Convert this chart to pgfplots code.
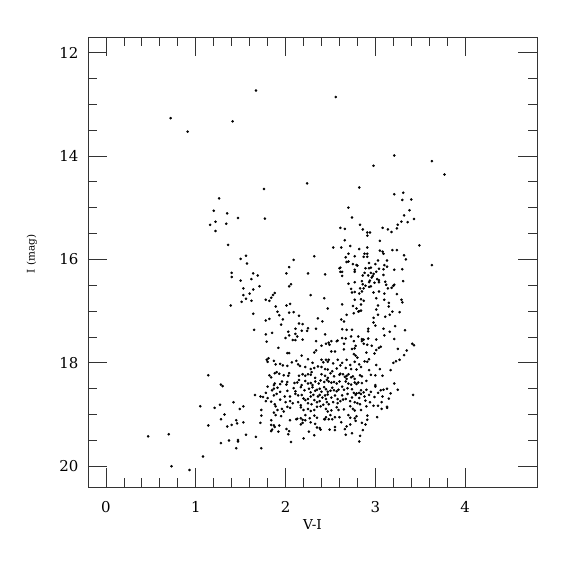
\documentclass[border=0pt]{standalone}
\usepackage{fontspec}
\setmainfont{DejaVu Serif}
\usepackage{pgfplots}
\usepackage{pgfplotstable}
\pgfplotsset{compat=1.18}
\pgfplotstableread{
x y
0.72 13.27
0.91 13.53
1.41 13.33
1.67 12.735
2.56 12.86
3.21 13.99
2.98 14.19
2.24 14.53
1.76 14.64
2.82 14.61
3.63 14.10
3.77 14.36
1.26 14.82
1.20 15.06
1.35 15.11
1.47 15.20
1.22 15.27
1.16 15.33
1.34 15.31
1.22 15.45
1.36 15.72
1.50 15.99
1.40 16.26
1.40 16.34
1.50 16.41
1.53 16.56
1.53 16.69
1.51 16.82
1.39 16.89
1.14 18.24
1.28 18.42
1.30 18.45
1.42 18.76
1.27 18.81
1.05 18.84
1.21 18.87
1.49 18.89
1.53 18.84
1.32 19.00
1.28 19.09
1.45 19.11
1.53 19.15
1.46 19.17
1.40 19.20
1.35 19.23
1.14 19.21
0.47 19.42
0.70 19.38
1.37 19.50
1.47 19.49
1.47 19.52
1.28 19.55
1.45 19.65
1.08 19.81
0.73 20.00
0.93 20.07
3.41 17.63
3.43 17.66
3.25 17.73
3.35 17.76
3.32 17.85
3.27 17.94
3.23 17.97
3.20 18.00
3.17 18.14
3.21 18.40
3.25 18.52
3.17 18.59
3.42 18.62
3.21 14.74
3.31 14.71
3.30 14.85
3.40 14.84
3.38 15.05
3.32 15.15
3.43 15.22
3.29 15.27
3.36 15.28
3.25 15.33
3.24 15.40
3.18 15.47
3.49 15.73
3.19 15.82
3.24 15.82
3.32 15.92
3.34 16.00
3.63 16.11
3.21 16.20
3.30 16.19
3.31 16.42
3.21 16.49
3.20 16.51
3.18 16.55
3.24 16.67
3.29 16.78
3.30 16.83
3.27 17.02
3.22 17.29
3.33 17.37
3.21 17.54
3.16 17.40
2.70 15.00
2.74 15.19
1.77 15.21
2.83 15.33
2.61 15.39
2.66 15.41
2.86 15.42
2.91 15.48
2.94 15.48
2.91 15.54
3.08 15.39
3.14 15.42
2.66 15.63
3.05 15.64
2.72 15.74
2.53 15.77
2.62 15.77
2.82 15.80
2.91 15.77
3.05 15.83
3.08 15.85
2.70 15.89
2.88 15.89
2.91 15.89
3.09 15.89
1.56 15.93
2.09 16.01
2.32 15.94
2.67 15.96
2.77 15.94
2.87 15.95
2.91 15.95
3.03 16.02
3.13 16.02
1.57 16.08
2.68 16.05
2.70 16.04
2.75 16.09
2.79 16.11
2.80 16.12
2.93 16.07
3.00 16.09
3.10 16.11
3.13 16.14
2.04 16.15
2.60 16.17
2.61 16.16
2.77 16.20
2.89 16.17
2.93 16.17
2.95 16.16
3.04 16.18
3.09 16.19
2.61 16.24
2.63 16.24
2.77 16.24
2.88 16.26
2.95 16.26
2.98 16.28
3.01 16.24
1.64 16.27
1.69 16.31
2.01 16.27
2.25 16.27
2.44 16.29
2.63 16.32
2.86 16.31
2.92 16.31
2.97 16.32
3.09 16.30
1.62 16.38
3.02 16.38
3.04 16.40
2.94 16.41
2.85 16.42
2.96 16.35
3.11 16.43
2.77 16.44
2.93 16.44
2.99 16.45
3.04 16.44
2.06 16.48
2.04 16.52
1.71 16.52
3.12 16.49
2.70 16.47
2.86 16.48
2.89 16.51
2.93 16.53
2.95 16.52
2.73 16.57
2.83 16.56
2.87 16.56
3.14 16.56
1.64 16.58
2.85 16.62
2.74 16.64
2.77 16.63
2.82 16.66
2.98 16.64
3.04 16.62
3.10 16.66
1.88 16.65
1.86 16.69
1.60 16.66
2.28 16.69
1.84 16.74
1.56 16.76
1.62 16.80
1.78 16.78
1.82 16.80
2.77 16.78
2.84 16.77
2.87 16.80
2.43 16.75
3.01 16.75
3.10 16.78
3.15 16.84
2.01 16.89
2.05 16.86
1.89 16.91
2.63 16.87
2.75 16.90
2.84 16.87
3.03 16.89
2.47 16.95
2.79 16.95
2.82 17.00
2.81 17.01
2.84 16.99
3.15 16.91
3.19 17.01
3.01 16.97
1.91 17.01
2.04 17.03
2.09 17.02
1.64 17.05
2.68 17.07
2.76 17.04
2.15 17.09
1.93 17.08
1.97 17.16
1.78 17.18
1.82 17.15
2.41 17.20
2.36 17.14
2.62 17.16
2.65 17.20
2.98 17.13
2.98 17.22
3.03 17.07
3.11 17.11
3.16 17.07
1.95 17.26
2.19 17.25
2.15 17.24
3.00 17.28
3.09 17.34
1.65 17.36
2.11 17.34
2.18 17.38
2.25 17.33
2.34 17.34
2.44 17.45
2.63 17.35
2.68 17.36
2.74 17.36
2.92 17.34
2.92 17.39
2.03 17.40
1.78 17.45
1.85 17.42
2.04 17.47
2.24 17.38
2.11 17.44
2.13 17.49
2.00 17.52
2.19 17.55
2.63 17.52
2.67 17.53
2.73 17.49
2.81 17.49
2.85 17.54
2.87 17.55
2.92 17.53
3.01 17.55
3.10 17.47
1.79 17.59
2.08 17.56
2.11 17.56
2.34 17.58
2.45 17.63
2.48 17.61
2.49 17.65
2.51 17.58
2.57 17.58
2.58 17.57
2.65 17.63
2.76 17.58
2.78 17.67
2.77 17.72
2.85 17.58
2.87 17.63
2.91 17.65
2.96 17.67
3.06 17.69
3.04 17.71
1.92 17.71
2.40 17.67
2.02 17.81
2.04 17.81
2.32 17.80
2.34 17.76
2.51 17.78
2.55 17.78
2.65 17.74
2.74 17.73
2.76 17.83
2.78 17.86
2.80 17.90
2.90 17.80
2.99 17.82
3.01 17.75
2.18 17.86
1.79 17.94
1.80 17.98
1.81 17.91
1.87 17.96
1.89 18.03
1.94 18.02
2.07 17.99
2.12 17.96
2.25 17.93
2.30 18.00
2.40 17.94
2.42 17.99
2.45 17.94
2.47 17.98
2.48 17.94
2.53 18.01
2.58 17.94
2.63 18.00
2.68 17.94
2.72 18.04
2.77 17.98
2.82 18.03
2.88 17.97
2.91 17.98
2.93 17.93
3.01 18.04
1.97 18.05
2.02 18.06
2.14 18.03
2.16 18.06
2.22 18.08
2.28 18.12
2.29 18.18
2.32 18.10
2.36 18.07
2.40 18.08
2.44 18.12
2.47 18.13
2.52 18.16
2.57 18.11
2.61 18.05
2.67 18.10
2.73 18.12
2.79 18.13
2.84 18.08
2.93 18.14
2.95 18.23
3.05 18.12
1.82 18.24
1.84 18.28
1.88 18.20
1.90 18.18
1.93 18.21
1.98 18.24
2.04 18.20
2.03 18.25
2.15 18.25
2.19 18.22
2.22 18.25
2.25 18.22
2.28 18.23
2.33 18.29
2.40 18.22
2.44 18.25
2.47 18.29
2.50 18.20
2.54 18.26
2.60 18.23
2.61 18.21
2.64 18.22
2.66 18.27
2.68 18.25
2.70 18.22
2.73 18.28
2.75 18.26
2.77 18.31
2.83 18.24
2.85 18.26
3.00 18.24
3.08 18.25
1.80 18.46
1.87 18.43
1.88 18.40
1.94 18.41
1.96 18.36
2.01 18.42
2.02 18.37
2.10 18.39
2.13 18.38
2.15 18.33
2.18 18.43
2.22 18.35
2.25 18.40
2.28 18.39
2.30 18.43
2.33 18.36
2.37 18.40
2.39 18.34
2.43 18.37
2.46 18.33
2.48 18.36
2.51 18.38
2.54 18.37
2.57 18.40
2.60 18.36
2.67 18.36
2.68 18.31
2.70 18.40
2.73 18.42
2.77 18.38
2.79 18.41
2.81 18.38
2.85 18.39
2.90 18.35
3.00 18.43
1.78 18.58
1.85 18.53
1.87 18.50
1.91 18.48
1.94 18.56
2.02 18.54
2.09 18.49
2.11 18.55
2.17 18.47
2.21 18.53
2.26 18.50
2.28 18.57
2.30 18.47
2.33 18.54
2.35 18.52
2.38 18.50
2.40 18.56
2.43 18.47
2.45 18.51
2.47 18.56
2.50 18.54
2.52 18.48
2.54 18.53
2.57 18.55
2.59 18.52
2.63 18.46
2.65 18.52
2.69 18.49
2.74 18.51
2.76 18.58
2.79 18.59
2.82 18.58
2.84 18.53
2.87 18.57
2.90 18.52
2.95 18.56
3.00 18.46
3.06 18.53
3.09 18.52
3.13 18.50
1.66 18.62
1.72 18.65
1.75 18.66
1.80 18.68
1.87 18.63
1.90 18.60
1.94 18.71
1.99 18.65
2.05 18.65
2.11 18.60
2.14 18.63
2.18 18.62
2.20 18.69
2.25 18.70
2.28 18.65
2.31 18.62
2.36 18.65
2.38 18.62
2.41 18.67
2.44 18.63
2.45 18.70
2.47 18.61
2.51 18.67
2.55 18.63
2.58 18.70
2.63 18.63
2.67 18.70
2.69 18.60
2.74 18.67
2.78 18.62
2.82 18.68
2.84 18.60
2.88 18.65
2.93 18.62
2.99 18.66
3.03 18.58
3.08 18.65
3.15 18.69
3.07 18.76
1.78 18.74
1.84 18.75
1.88 18.80
2.00 18.76
2.05 18.74
2.08 18.78
2.14 18.76
2.17 18.82
2.22 18.72
2.25 18.78
2.29 18.80
2.32 18.72
2.35 18.76
2.38 18.74
2.42 18.81
2.46 18.76
2.48 18.80
2.53 18.76
2.58 18.78
2.61 18.74
2.64 18.71
2.72 18.74
2.77 18.76
2.80 18.78
2.83 18.80
2.89 18.73
2.94 18.76
2.98 18.83
3.03 18.83
3.13 18.85
1.73 18.91
1.89 18.84
1.91 18.91
1.87 18.96
1.96 18.89
1.98 18.94
2.02 18.85
2.05 18.87
2.17 18.86
2.20 18.91
2.25 18.89
2.28 18.93
2.32 18.91
2.35 18.85
2.39 18.84
2.45 18.89
2.47 18.94
2.51 18.92
2.57 18.86
2.59 18.91
2.65 18.90
2.72 18.84
2.75 18.89
2.77 18.92
2.84 18.91
2.90 18.84
3.07 18.89
3.13 18.87
1.73 19.02
1.84 19.11
1.89 19.01
1.95 19.03
2.13 19.08
2.17 19.07
2.19 19.10
2.22 19.01
2.27 19.07
2.32 19.02
2.35 19.06
2.43 19.09
2.45 19.05
2.48 19.09
2.50 19.01
2.52 19.09
2.55 19.05
2.60 19.05
2.70 19.01
2.72 19.06
2.77 19.07
2.79 19.03
2.91 19.02
2.91 19.10
3.02 19.05
1.72 19.16
1.84 19.20
1.87 19.21
1.88 19.24
1.93 19.21
1.85 19.29
2.05 19.11
2.12 19.09
2.17 19.19
2.19 19.16
2.22 19.11
2.28 19.15
2.33 19.18
2.35 19.25
2.38 19.26
2.44 19.09
2.49 19.29
2.55 19.24
2.62 19.15
2.68 19.23
2.72 19.19
2.78 19.12
2.85 19.16
2.89 19.19
1.56 19.39
1.67 19.43
1.84 19.32
1.92 19.33
2.01 19.28
2.04 19.32
2.03 19.38
2.26 19.33
2.32 19.40
2.20 19.46
2.39 19.29
2.55 19.30
2.66 19.28
2.67 19.39
2.74 19.36
2.83 19.41
2.86 19.30
1.73 19.65
2.06 19.53
2.82 19.52
}\cmd
\begin{document}
\begin{tikzpicture}
\begin{axis}[
  scale only axis,
  width=449bp, height=450bp,
  xmin=-0.2, xmax=4.8,
  ymin=11.7, ymax=20.4,
  y dir=reverse,
  xtick={0,1,2,3,4},
  ytick={12,14,16,18,20},
  minor x tick num=4,
  minor y tick num=3,
  tick align=inside,
  major tick length=19bp,
  minor tick length=9bp,
  axis line style={black!80, line width=0.8bp},
  every tick/.style={black!80, line width=0.8bp},
  /pgf/number format/assume math mode=true,
  tick label style={font=\fontsize{15}{18}\selectfont},
  xticklabel style={yshift=-11bp},
  yticklabel style={xshift=-6bp},
  xlabel={V-I},
  ylabel={I (mag)},
  xlabel style={font=\fontsize{13.7}{16}\selectfont, at={(axis description cs:0.5,-0.0711)}, anchor=north, inner sep=0pt},
  ylabel style={font=\fontsize{10.5}{13}\selectfont, at={(axis description cs:-0.125,0.518)}, anchor=center, inner sep=0pt},
]
\addplot[only marks, mark=*, mark size=1.1bp, black] table[x=x, y=y] {\cmd};
\end{axis}
\path ([shift={(-88bp,-88bp)}]current axis.south west) rectangle ([shift={(38bp,37bp)}]current axis.north east);
\end{tikzpicture}
\end{document}
